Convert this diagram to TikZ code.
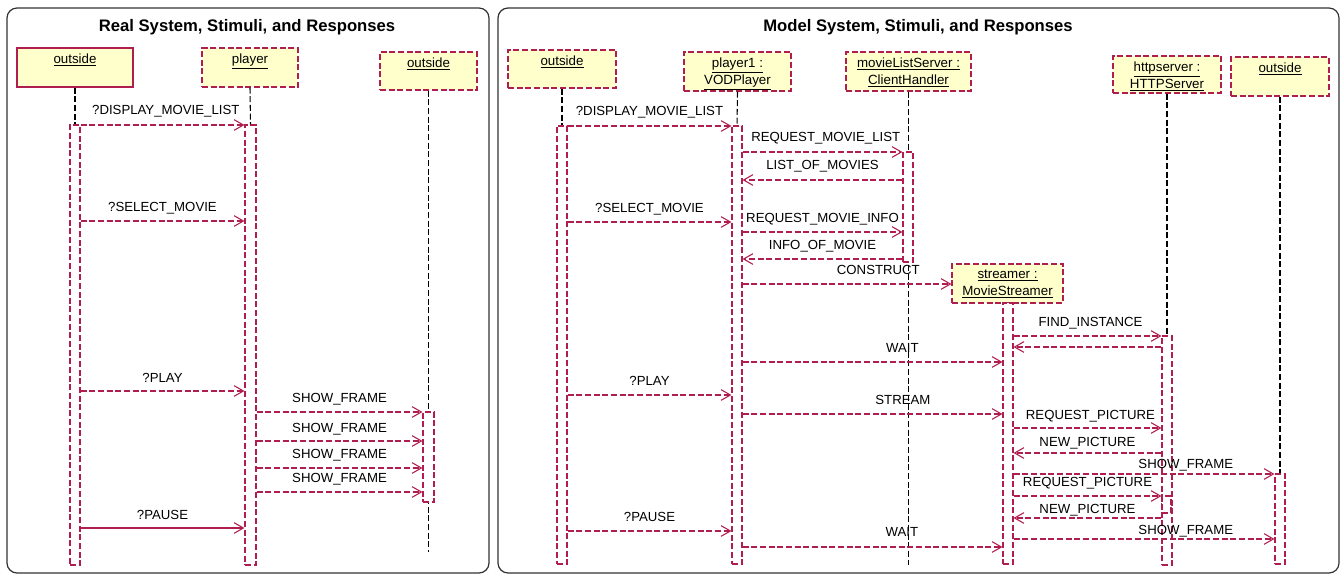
\documentclass[tikz,border=0pt]{standalone}
\usepackage{fontspec}
\setmainfont{Liberation Sans}
\usetikzlibrary{arrows.meta,fit}
\definecolor{crim}{RGB}{176,30,80}
\definecolor{boxfill}{RGB}{255,255,204}
\definecolor{framec}{RGB}{50,50,50}
\begin{document}
\begin{tikzpicture}[x=0.75pt,y=-0.75pt,
  panel/.style={draw=framec, line width=0.9pt, rounded corners=7.5pt, inner sep=0pt},
  ttl/.style={font=\fontsize{12.5}{15}\selectfont\bfseries, inner sep=0pt},
  objbox/.style={draw=crim, fill=boxfill, line width=0.8pt, dash pattern=on 4.5pt off 2pt, inner sep=0pt},
  objsolid/.style={draw=crim, fill=boxfill, line width=0.8pt, inner sep=0pt},
  objtxt/.style={font=\fontsize{10}{12.75}\selectfont, align=center, inner sep=0pt, anchor=north, yshift=-4.5pt},
  actbar/.style={draw=crim, fill=white, line width=0.8pt, dash pattern=on 4.5pt off 2pt, inner sep=0pt},
  life/.style={draw=black, line width=0.8pt, dash pattern=on 4.5pt off 2pt},
  msg/.style={draw=crim, line width=0.8pt, dash pattern=on 4.5pt off 2pt, -{Straight Barb[length=7pt,width=8pt]}},
  msgsolid/.style={draw=crim, line width=0.8pt, -{Straight Barb[length=7pt,width=8pt]}},
  lbl/.style={font=\fontsize{9.9}{12}\selectfont, anchor=base, inner sep=0pt},
]
\useasboundingbox (0,0) rectangle (1341,574);

% ---------------- Left panel ----------------
\node[panel, fit={(7,8)(489,573)}] (lpanel) {};
\node[ttl] (ltitle) at (247,27) {Real System, Stimuli, and Responses};

\node[objsolid, fit={(17,48)(133,87)}] (lo1) {};
\node[objtxt] (lo1t) at (lo1.north) {\underline{outside}};
\node[objbox, fit={(202,48)(298,87)}] (lpl) {};
\node[objtxt] (lplt) at (lpl.north) {\underline{player}};
\node[objbox, fit={(380,52)(477,90)}] (lo2) {};
\node[objtxt] (lo2t) at (lo2.north) {\underline{outside}};

\coordinate (lo2end) at (428.5,552);
\node[actbar, fit={(70,125)(80,565)}] (lo1bar) {};
\node[actbar, fit={(245,125)(256,565)}] (lplbar) {};
\draw[life] (lo1.south) -- (lo1bar.north);
\draw[life] (lpl.south) -- (lplbar.north);
\draw[life] (lo2.south) -- (lo2end);
\node[actbar, fit={(423,412)(434,502)}] (lo2bar) {};

\coordinate (L1) at (0,125);
\coordinate (L2) at (0,221);
\coordinate (L3) at (0,391);
\coordinate (L4) at (0,412);
\coordinate (L5) at (0,441);
\coordinate (L6) at (0,468);
\coordinate (L7) at (0,492);
\coordinate (L8) at (0,528);

\draw[msg] (lo1bar.east |- L1) -- (lplbar.west |- L1) node[lbl, pos=0.52, yshift=7.5pt] {?DISPLAY\_MOVIE\_LIST};
\draw[msg] (lo1bar.east |- L2) -- (lplbar.west |- L2) node[lbl, pos=0.5, yshift=7.5pt] {?SELECT\_MOVIE};
\draw[msg] (lo1bar.east |- L3) -- (lplbar.west |- L3) node[lbl, pos=0.5, yshift=6.75pt] {?PLAY};
\draw[msg] (lplbar.east |- L4) -- (lo2bar.west |- L4) node[lbl, pos=0.5, yshift=7.5pt] {SHOW\_FRAME};
\draw[msg] (lplbar.east |- L5) -- (lo2bar.west |- L5) node[lbl, pos=0.5, yshift=6.75pt] {SHOW\_FRAME};
\draw[msg] (lplbar.east |- L6) -- (lo2bar.west |- L6) node[lbl, pos=0.5, yshift=7.5pt] {SHOW\_FRAME};
\draw[msg] (lplbar.east |- L7) -- (lo2bar.west |- L7) node[lbl, pos=0.5, yshift=7.5pt] {SHOW\_FRAME};
\draw[msgsolid] (lo1bar.east |- L8) -- (lplbar.west |- L8) node[lbl, pos=0.5, yshift=6.75pt] {?PAUSE};

% ---------------- Right panel ----------------
\node[panel, fit={(498,8)(1339,573)}] (rpanel) {};
\node[ttl] (rtitle) at (918,27) {Model System, Stimuli, and Responses};

\node[objbox, fit={(508,50)(616,88)}] (ro1) {};
\node[objtxt] (ro1t) at (ro1.north) {\underline{outside}};
\node[objbox, fit={(684,52)(791,91)}] (rpl) {};
\node[objtxt] (rplt) at (rpl.north) {\underline{player1 :}\\\underline{VODPlayer}};
\node[objbox, fit={(846,52)(971,91)}] (rml) {};
\node[objtxt] (rmlt) at (rml.north) {\underline{movieListServer :}\\\underline{ClientHandler}};
\node[objbox, fit={(1113,56)(1221,93)}] (rht) {};
\node[objtxt] (rhtt) at (rht.north) {\underline{httpserver :}\\\underline{HTTPServer}};
\node[objbox, fit={(1231,57)(1329,96)}] (ro5) {};
\node[objtxt] (ro5t) at (ro5.north) {\underline{outside}};
\node[objbox, fit={(952,264)(1063,303)}] (rst) {};
\node[objtxt] (rstt) at (rst.north) {\underline{streamer :}\\\underline{MovieStreamer}};

\coordinate (rmlend) at (908.5,565);
\node[actbar, fit={(557,126)(567,564)}] (ro1bar) {};
\node[actbar, fit={(732,126)(742,564)}] (rplbar) {};
\draw[life] (ro1.south) -- (ro1bar.north);
\draw[life] (rpl.south) -- (rplbar.north);
\draw[life] (rml.south) -- (rmlend);
\node[actbar, fit={(903,152)(913,262)}] (rmlbar) {};
\node[actbar, fit={(1003,303)(1013,564)}] (rstbar) {};
\node[actbar, fit={(1162,336)(1172,565)}] (rhtbar) {};
\draw[life] (rht.south) -- (rhtbar.north);
\node[actbar, fit={(1162,496)(1171,513)}] (rhtbar2) {};
\node[actbar, fit={(1275,474)(1285,564)}] (ro5bar) {};
\draw[life] (ro5.south) -- (ro5bar.north);

\coordinate (R1) at (0,126);
\coordinate (R2) at (0,152);
\coordinate (R3) at (0,180);
\coordinate (R4) at (0,222);
\coordinate (R5) at (0,232);
\coordinate (R6) at (0,259);
\coordinate (R7) at (0,284);
\coordinate (R8) at (0,336);
\coordinate (R9) at (0,347);
\coordinate (R10) at (0,362);
\coordinate (R11) at (0,395);
\coordinate (R12) at (0,414);
\coordinate (R13) at (0,428);
\coordinate (R14) at (0,453);
\coordinate (R15) at (0,474);
\coordinate (R16) at (0,496);
\coordinate (R17) at (0,518);
\coordinate (R18) at (0,539);
\coordinate (R19) at (0,531);
\coordinate (R20) at (0,547);

\draw[msg] (ro1bar.east |- R1) -- (rplbar.west |- R1) node[lbl, pos=0.5, yshift=7.5pt] {?DISPLAY\_MOVIE\_LIST};
\draw[msg] (rplbar.east |- R2) -- (rmlbar.west |- R2) node[lbl, pos=0.52, yshift=7.5pt] {REQUEST\_MOVIE\_LIST};
\draw[msg] (rmlbar.west |- R3) -- (rplbar.east |- R3) node[lbl, pos=0.5, yshift=7.5pt] {LIST\_OF\_MOVIES};
\draw[msg] (ro1bar.east |- R4) -- (rplbar.west |- R4) node[lbl, pos=0.5, yshift=7.5pt] {?SELECT\_MOVIE};
\draw[msg] (rplbar.east |- R5) -- (rmlbar.west |- R5) node[lbl, pos=0.5, yshift=7.5pt] {REQUEST\_MOVIE\_INFO};
\draw[msg] (rmlbar.west |- R6) -- (rplbar.east |- R6) node[lbl, pos=0.5, yshift=7.5pt] {INFO\_OF\_MOVIE};
\draw[msg] (rplbar.east |- R7) -- (rst.west |- R7) node[lbl, pos=0.65, yshift=7.5pt] {CONSTRUCT};
\draw[msg] (rstbar.east |- R8) -- (rhtbar.west |- R8) node[lbl, pos=0.52, yshift=7.5pt] {FIND\_INSTANCE};
\draw[msg] (rhtbar.west |- R9) -- (rstbar.east |- R9);
\draw[msg] (rplbar.east |- R10) -- (rstbar.west |- R10) node[lbl, pos=0.615, yshift=7.5pt] {WAIT};
\draw[msg] (ro1bar.east |- R11) -- (rplbar.west |- R11) node[lbl, pos=0.5, yshift=7.5pt] {?PLAY};
\draw[msg] (rplbar.east |- R12) -- (rstbar.west |- R12) node[lbl, pos=0.617, yshift=7.5pt] {STREAM};
\draw[msg] (rstbar.east |- R13) -- (rhtbar.west |- R13) node[lbl, pos=0.52, yshift=6.75pt] {REQUEST\_PICTURE};
\draw[msg] (rhtbar.west |- R14) -- (rstbar.east |- R14) node[lbl, pos=0.5, yshift=5.25pt] {NEW\_PICTURE};
\draw[msg] (rstbar.east |- R15) -- (ro5bar.west |- R15) node[lbl, pos=0.66, yshift=4.5pt] {SHOW\_FRAME};
\draw[msg] (rstbar.east |- R16) -- (rhtbar2.west |- R16) node[lbl, pos=0.5, yshift=7.5pt] {REQUEST\_PICTURE};
\draw[msg] (rhtbar2.west |- R17) -- (rstbar.east |- R17) node[lbl, pos=0.5, yshift=3.75pt] {NEW\_PICTURE};
\draw[msg] (rstbar.east |- R18) -- (ro5bar.west |- R18) node[lbl, pos=0.66, yshift=3.75pt] {SHOW\_FRAME};
\draw[msg] (ro1bar.east |- R19) -- (rplbar.west |- R19) node[lbl, pos=0.5, yshift=7.5pt] {?PAUSE};
\draw[msg] (rplbar.east |- R20) -- (rstbar.west |- R20) node[lbl, pos=0.613, yshift=8.25pt] {WAIT};
\end{tikzpicture}
\end{document}
